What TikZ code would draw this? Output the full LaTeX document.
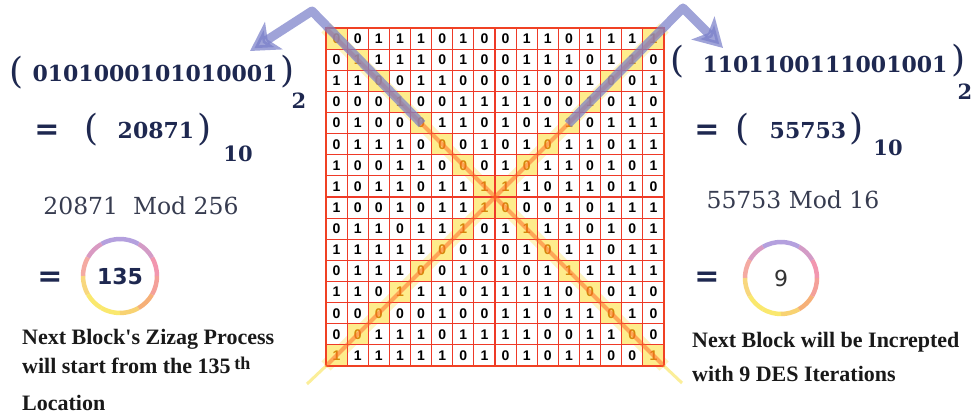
\documentclass[tikz,border=0pt]{standalone}
\usepackage{fontspec}
\usetikzlibrary{arrows.meta,positioning,calc}
\newfontfamily\numfont{DejaVu Serif}
\newfontfamily\notefont{Liberation Serif}
\newfontfamily\cellfont{Liberation Sans}
\newfontfamily\symfont{DejaVu Sans}
\definecolor{numnavy}{RGB}{30,40,80}
\definecolor{modgray}{RGB}{55,60,80}
\definecolor{gridred}{RGB}{238,58,40}
\definecolor{hlyellow}{RGB}{254,236,140}
\definecolor{hlgold}{RGB}{212,136,10}
\definecolor{bandorange}{RGB}{255,100,35}
\definecolor{lavarrow}{RGB}{122,128,202}
\definecolor{rpink}{RGB}{242,150,175}
\definecolor{rlav}{RGB}{180,160,222}
\definecolor{rpeach}{RGB}{246,190,150}
\definecolor{ryel}{RGB}{250,232,110}
\definecolor{rorange}{RGB}{246,176,120}

\begin{document}
\begin{tikzpicture}[x=1pt, y=-1pt,
    cell/.style={minimum size=21.125pt, inner sep=0, draw=gridred, line width=1.1pt,
                 text=black, font=\cellfont\bfseries\fontsize{14}{14}\selectfont},
    hlcell/.style={cell, fill=hlyellow, text=hlgold},
    binnum/.style={inner sep=0, text=numnavy, font=\numfont\bfseries\fontsize{22}{22}\selectfont},
    basesub/.style={inner sep=0, text=numnavy, font=\numfont\bfseries\fontsize{21}{21}\selectfont},
    paren/.style={inner sep=0, text=numnavy, font=\numfont\fontsize{36}{36}\selectfont},
    eqsign/.style={inner sep=0, text=numnavy, font=\symfont\bfseries\fontsize{30}{30}\selectfont},
    modtext/.style={inner sep=0, text=modgray, font=\numfont\fontsize{23.5}{24}\selectfont},
    note/.style={inner sep=0, anchor=base west, text=black!90, font=\notefont\bfseries\fontsize{22}{22}\selectfont},
    ring/.style={line width=4.5pt},
    bandglow/.style={line width=13pt, draw=hlyellow, opacity=0.55},
    band/.style={line width=4pt, draw=bandorange, opacity=0.5},
    tailfade/.style={line width=3pt, draw=ryel, opacity=0.7},
    bigarrow/.style={line width=9pt, draw=lavarrow, opacity=0.72, line join=round,
                     -{Stealth[length=28pt, width=32pt, inset=7pt]}}]

\fill[white] (0,0) rectangle (972,419);
\useasboundingbox (0,0) rectangle (972,419);

% grid corners
\coordinate (tl) at (326,28);
\coordinate (tr) at (664,28);
\coordinate (bl) at (326,366);
\coordinate (br) at (664,366);

% glow under the two diagonals
\draw[bandglow] (tl) -- (br);
\draw[bandglow] (tr) -- (bl);

% the 16x16 bit block
\foreach \rowbits [count=\r] in {
    {0,0,1,1,1,0,1,0,0,1,1,0,1,1,1,1},
    {0,1,1,1,1,0,1,0,0,1,1,1,0,1,1,0},
    {1,1,0,0,1,1,0,0,0,1,0,0,1,0,0,1},
    {0,0,0,1,0,0,1,1,1,1,0,0,1,0,1,0},
    {0,1,0,0,0,1,1,0,1,0,1,1,0,1,1,1},
    {0,1,1,1,0,0,0,1,0,1,0,1,1,0,1,1},
    {1,0,0,1,1,0,0,0,1,0,1,1,0,1,0,1},
    {1,0,1,1,0,1,1,1,1,1,0,1,1,0,1,0},
    {1,0,0,1,0,1,1,1,0,0,0,1,0,1,1,1},
    {0,1,1,0,1,1,1,0,1,1,1,1,0,1,0,1},
    {1,1,1,1,1,0,0,1,0,1,0,1,1,0,1,1},
    {0,1,1,1,0,0,1,0,1,0,1,1,1,1,1,1},
    {1,1,0,1,1,1,0,1,1,1,1,0,0,0,1,0},
    {0,0,0,0,0,1,0,0,1,1,0,1,1,0,1,0},
    {0,0,1,1,1,0,1,1,1,1,0,0,1,1,0,0},
    {1,1,1,1,1,1,0,1,0,1,0,1,1,0,0,1}}{
  \foreach \b [count=\c] in \rowbits {
    \ifnum\c=\r \def\cs{hlcell}\else
      \ifnum\numexpr\c+\r\relax=17 \def\cs{hlcell}\else\def\cs{cell}\fi\fi
    \node[\cs] (c-\r-\c) at ({326+(\c-0.5)*21.125},{28+(\r-0.5)*21.125}) {\b};
  }
}
\draw[gridred!90!orange, line width=2.5pt] (tl) rectangle (br);

% zigzag diagonals
\draw[band] (tl) -- (br);
\draw[band] (tr) -- (bl);
\coordinate (blx) at (307,384);
\coordinate (brx) at (682,383);
\draw[tailfade] (bl) -- (blx);
\draw[tailfade] (br) -- (brx);

% arrows out to the two readings
\coordinate (lstart) at (422,124);
\coordinate (lpeak) at (312,11);
\coordinate (ltip) at (250,51);
\coordinate (rstart) at (568,124);
\coordinate (rpeak) at (683,8);
\coordinate (rtip) at (723,48);
\draw[bigarrow] (lstart) -- (lpeak) -- (ltip);
\draw[bigarrow] (rstart) -- (rpeak) -- (rtip);

% left reading
\node[paren] (lpo) at (17,73) {(};
\node[binnum] (lbin) at (155,73) {0101000101010001};
\node[paren] (lpc) at (288,72) {)};
\node[basesub] (lb2) at (299,101) {2};
\node[eqsign] (leq) at (47,132) {=};
\node[paren] (lpo2) at (92,130) {(};
\node[binnum] (ldec) at (156,130) {20871};
\node[paren] (lpc2) at (205,130) {)};
\node[basesub] (lb10) at (238,154) {10};
\node[modtext] (lmod) at (141,206) {20871\ \ Mod 256};
\node[eqsign] (leq2) at (50,279) {=};
\node[inner sep=0, text=numnavy, font=\symfont\bfseries\fontsize{22}{22}\selectfont] (lval) at (120,276) {135};
\foreach \a/\cl in {0/rpink, 30/rpink!50!rlav, 60/rlav, 90/rlav, 120/rlav!40!rpink,
    150/rpink!50!rpeach, 180/rpeach!40!ryel, 210/ryel, 240/ryel, 270/ryel!60!rorange,
    300/rorange, 330/rorange!40!rpink}
  \draw[ring, \cl] ($(lval.center)+({-\a}:37)$) arc[start angle=-\a, end angle={-\a-30}, radius=37];
\node[note] (lnote1) at (22,345) {Next Block's Zizag Process};
\node[note] (lnote2) at (22,374) {will start from the 135\,\raisebox{4pt}{\fontsize{18}{18}\selectfont th}};
\node[note] (lnote3) at (22,410) {Location};

% right reading
\node[paren] (rpo) at (678,62) {(};
\node[binnum] (rbin) at (825,64) {1101100111001001};
\node[paren] (rpc) at (959,61) {)};
\node[basesub] (rb2) at (965,92) {2};
\node[eqsign] (req) at (707,132) {=};
\node[paren] (rpo2) at (743,130) {(};
\node[binnum] (rdec) at (808,130) {55753};
\node[paren] (rpc2) at (857,129) {)};
\node[basesub] (rb10) at (888,148) {10};
\node[modtext] (rmod) at (793,200) {55753 Mod 16};
\node[eqsign] (req2) at (707,279) {=};
\node[inner sep=0, text=black!80, font=\symfont\fontsize{22}{22}\selectfont] (rval) at (781,278) {9};
\foreach \a/\cl in {0/rpink, 30/rpink!50!rlav, 60/rlav, 90/rlav, 120/rlav!40!rpink,
    150/rpink!50!rpeach, 180/rpeach!40!ryel, 210/ryel, 240/ryel, 270/ryel!60!rorange,
    300/rorange, 330/rorange!40!rpink}
  \draw[ring, \cl] ($(rval.center)+({-\a}:36)$) arc[start angle=-\a, end angle={-\a-30}, radius=36];
\node[note] (rnote1) at (692,348) {Next Block will be Increpted};
\node[note] (rnote2) at (692,382) {with 9 DES Iterations};
\end{tikzpicture}
\end{document}
